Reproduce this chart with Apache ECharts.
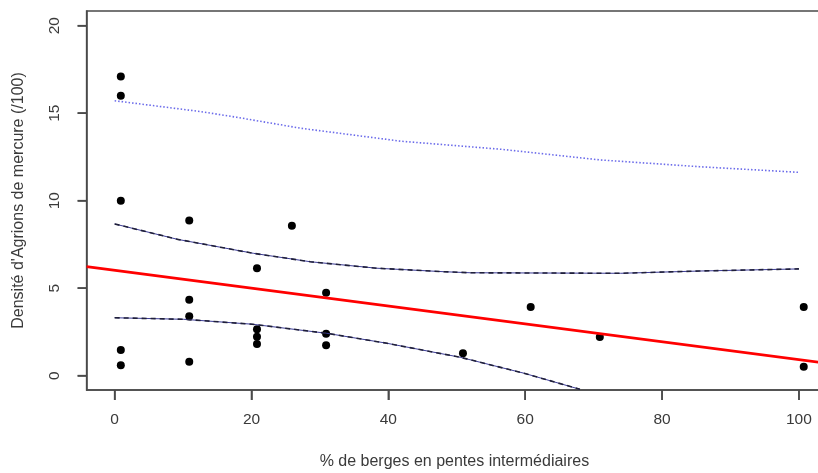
<!DOCTYPE html>
<html>
<head>
<meta charset="utf-8">
<script src="https://cdn.jsdelivr.net/npm/echarts@6/dist/echarts.min.js"></script>
<style>
html,body{margin:0;padding:0;background:#fff;}
#c{width:818px;height:473px;}
</style>
</head>
<body>
<div id="c"></div>
<script>
// ---- data ----
var ptX = [0.9, 0.9, 0.9, 0.9, 0.9, 10.9, 10.9, 10.9, 10.9, 20.8, 20.8, 20.8, 20.8, 25.9, 30.9, 30.9, 30.9, 50.9, 60.8, 70.9, 100.7, 100.7];
var ptY = [17.1, 16.0, 10.0, 1.47, 0.6, 8.86, 4.34, 3.4, 0.8, 6.14, 2.65, 2.23, 1.81, 8.57, 4.74, 2.4, 1.74, 1.28, 3.93, 2.21, 3.93, 0.51];

var regX = [-4.1, 103.4];
var regY = [6.23, 0.74];

var upPIX = [0, 12.6, 17.8, 27.2, 41.8, 56.4, 70.9, 85.5, 100];
var upPIY = [15.71, 15.09, 14.77, 14.14, 13.4, 12.94, 12.33, 11.94, 11.62];

var upCIX = [0, 9.2, 20.3, 28.6, 38.3, 48.1, 52, 73.9, 85.5, 100];
var upCIY = [8.67, 7.79, 6.99, 6.51, 6.14, 5.94, 5.88, 5.85, 5.98, 6.1];

var loCIX = [0, 10.1, 20.1, 31, 39.8, 50.5, 59.8, 68];
var loCIY = [3.31, 3.22, 2.94, 2.42, 1.85, 1.05, 0.14, -0.78];

var xTicks = [0, 20, 40, 60, 80, 100];
var yTicks = [0, 5, 10, 15, 20];

var xTitle = "% de berges en pentes intermédiaires";
var yTitle = "Densité d'Agrions de mercure (/100)";

var X_MIN = -4.1, X_MAX = 103.4, Y_MIN = -0.82, Y_MAX = 20.84;

function zip(a, b) { return a.map(function (v, i) { return [v, b[i]]; }); }

var FONT = "'Liberation Sans', Arial, sans-serif";
var AX = '#4a4a4a';
var TXT = '#3a3a3a';

function tickMarks(values, isX) {
  return {
    type: 'scatter', silent: true, clip: false, z: 6,
    data: values.map(function (v) { return isX ? [v, Y_MIN] : [X_MIN, v]; }),
    symbol: 'rect',
    symbolSize: isX ? [1.6, 10] : [9, 1.6],
    symbolOffset: isX ? [0, 5] : [-4.5, 0],
    itemStyle: {color: AX, opacity: 1}
  };
}

var chart = echarts.init(document.getElementById('c'), null, {renderer: 'canvas'});
chart.setOption({
  backgroundColor: '#ffffff',
  animation: false,
  grid: {
    left: 86.6, top: 11, width: 735.6, height: 379,
    containLabel: false, outerBoundsMode: 'none',
    show: true, borderColor: AX, borderWidth: 1.5
  },
  xAxis: {
    type: 'value', min: X_MIN, max: X_MAX,
    splitLine: {show: false},
    axisLine: {show: true, onZero: false, lineStyle: {color: AX, width: 1.5}},
    axisTick: {show: true, customValues: xTicks, length: 10, inside: false, lineStyle: {color: AX, width: 1.5}},
    axisLabel: {customValues: xTicks, fontSize: 15.5, color: TXT, fontFamily: FONT, margin: 22},
    name: xTitle, nameLocation: 'middle', nameGap: 64,
    nameTextStyle: {fontSize: 16, color: TXT, fontFamily: FONT}
  },
  yAxis: {
    type: 'value', min: Y_MIN, max: Y_MAX,
    splitLine: {show: false},
    axisLine: {show: true, onZero: false, lineStyle: {color: AX, width: 1.5}},
    axisTick: {show: true, customValues: yTicks, length: 9, inside: false, lineStyle: {color: AX, width: 1.5}},
    axisLabel: {customValues: yTicks, fontSize: 15.5, color: TXT, fontFamily: FONT, margin: 24, rotate: 90},
    name: yTitle, nameLocation: 'middle', nameGap: 60, nameRotate: 90,
    nameTextStyle: {fontSize: 16, color: TXT, fontFamily: FONT}
  },
  series: [
    {type: 'line', data: zip(upPIX, upPIY), showSymbol: false, silent: true, clip: true,
     lineStyle: {color: '#6b6bea', width: 1.6, type: [1.5, 2]}},
    {type: 'line', data: zip(upCIX, upCIY), showSymbol: false, silent: true, clip: true,
     lineStyle: {color: '#3b3b96', width: 1}},
    {type: 'line', data: zip(upCIX, upCIY), showSymbol: false, silent: true, clip: true,
     lineStyle: {color: '#20203a', width: 1.6, type: [5, 4]}},
    {type: 'line', data: zip(loCIX, loCIY), showSymbol: false, silent: true, clip: true,
     lineStyle: {color: '#3b3b96', width: 1}},
    {type: 'line', data: zip(loCIX, loCIY), showSymbol: false, silent: true, clip: true,
     lineStyle: {color: '#20203a', width: 1.6, type: [5, 4]}},
    {type: 'line', data: zip(regX, regY), showSymbol: false, silent: true, clip: true,
     lineStyle: {color: '#ff0000', width: 2.6}},
    {type: 'scatter', data: zip(ptX, ptY), symbol: 'circle', symbolSize: 8,
     itemStyle: {color: '#000000', opacity: 1}},
    tickMarks(xTicks, true),
    tickMarks(yTicks, false)
  ]
});
</script>
</body>
</html>
